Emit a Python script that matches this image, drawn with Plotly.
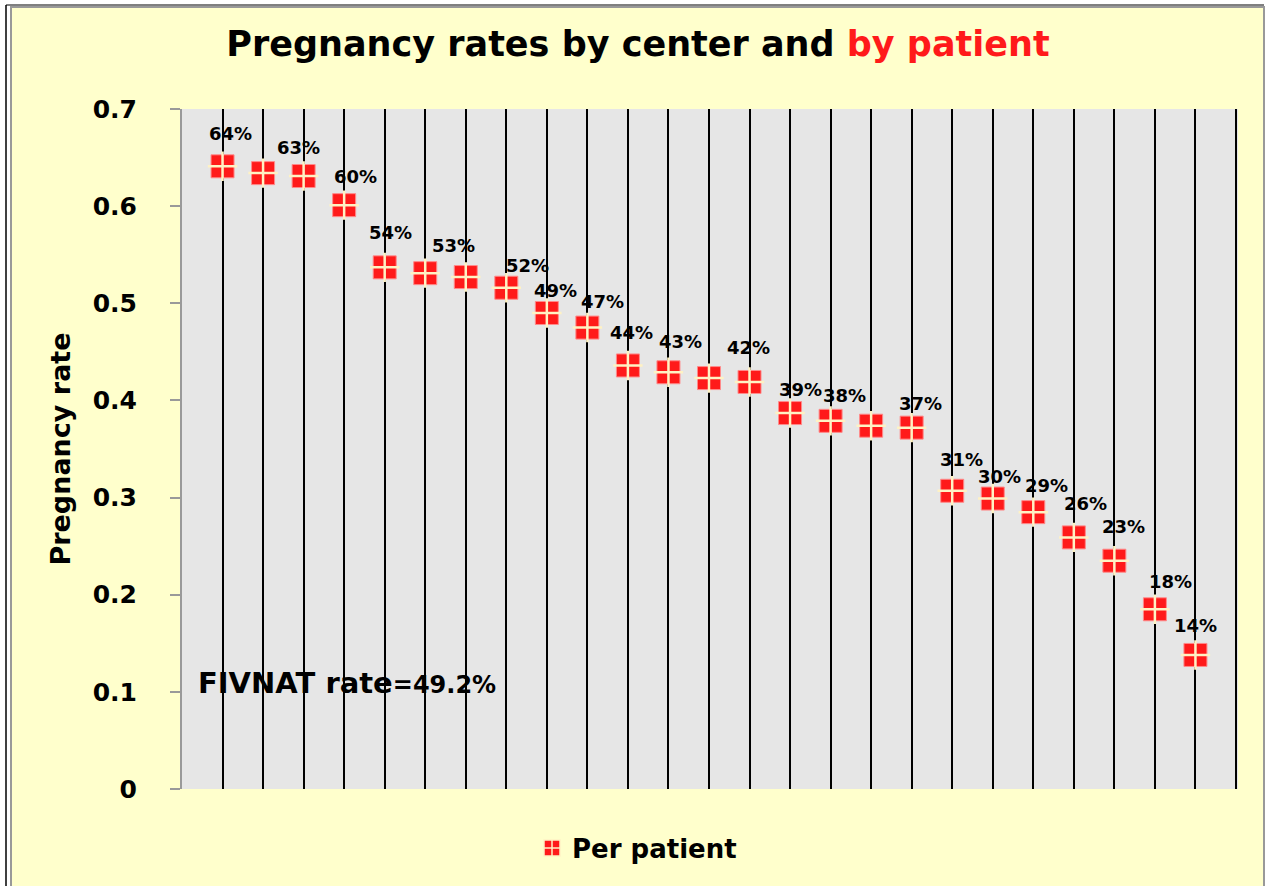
import plotly.graph_objects as go

# data
centers = list(range(1, 26))
rates = [0.641, 0.634, 0.631, 0.601, 0.537, 0.531, 0.527, 0.516, 0.490, 0.475,
         0.436, 0.429, 0.423, 0.419, 0.387, 0.379, 0.374, 0.372, 0.307, 0.299,
         0.285, 0.259, 0.235, 0.185, 0.138]
label_centers = [1, 3, 4, 5, 6, 8, 9, 10, 11, 12, 14, 15, 16, 18, 19, 20, 21, 22, 23, 24, 25]
label_texts = ["64%", "63%", "60%", "54%", "53%", "52%", "49%", "47%", "44%", "43%", "42%",
               "39%", "38%", "37%", "31%", "30%", "29%", "26%", "23%", "18%", "14%"]
y_ticks = [0, 0.1, 0.2, 0.3, 0.4, 0.5, 0.6, 0.7]
y_tick_text = ["0", "0.1", "0.2", "0.3", "0.4", "0.5", "0.6", "0.7"]
fivnat_rate = "49.2%"

# label placement (pixel shifts, styling only)
label_shift = [(8, 33), (-5, 29), (11, 29), (6, 35), (28, 28), (21, 22), (9, 23), (15, 26),
               (4, 33), (12, 31), (-1, 34), (10, 24), (14, 25), (9, 24), (9, 31), (7, 22),
               (13, 27), (12, 34), (9, 34), (16, 28), (0, 29)]

FONT = "DejaVu Sans"
YELLOW = "#FFFFCC"
RED = "#FF1A1A"
W, H = 1269, 886
L, R, T, B = 182, 31, 109, 97


def px_x(p):
    return (p - L) / (W - L - R)


def px_y(p):
    return (H - B - p) / (H - T - B)


def build_figure() -> go.Figure:
    fig = go.Figure()

    # red square body
    fig.add_trace(
        go.Scatter(
            x=centers,
            y=rates,
            mode="markers",
            marker=dict(symbol="square", size=23, color=RED,
                        line=dict(color="#FF8A8A", width=1)),
            showlegend=False,
            hoverinfo="skip",
        )
    )
    # light cross on top
    fig.add_trace(
        go.Scatter(
            x=centers,
            y=rates,
            mode="markers",
            name="Per patient",
            marker=dict(symbol="cross-thin", size=21, color="#FFF2C4",
                        line=dict(color="#FFF2C4", width=2.5)),
            showlegend=False,
            hovertemplate="%{y:.1%}<extra></extra>",
        )
    )
    # legend entry only
    fig.add_trace(
        go.Scatter(
            x=[None],
            y=[None],
            mode="markers",
            name="Per patient",
            marker=dict(symbol="square-cross", size=18, color=RED,
                        line=dict(color="#FFF2C4", width=1.5)),
            showlegend=True,
        )
    )

    for c, txt, (dx, dy) in zip(label_centers, label_texts, label_shift):
        fig.add_annotation(
            x=c,
            y=rates[c - 1],
            text=f"<b>{txt}</b>",
            showarrow=False,
            xshift=dx,
            yshift=dy,
            font=dict(family=FONT, size=18, color="black"),
        )

    fig.add_annotation(
        xref="paper",
        yref="y",
        x=px_x(196),
        y=0.109,
        xanchor="left",
        yanchor="middle",
        text=f"<b>FIVNAT rate</b><b><span style='font-size:24px'>={fivnat_rate}</span></b>",
        showarrow=False,
        font=dict(family=FONT, size=29, color="black"),
    )

    # frame around the chart
    frame = [
        dict(type="rect", x0=px_x(0), x1=px_x(11), y0=px_y(0), y1=px_y(H + 5), fillcolor="white", line_width=0),
        dict(type="rect", x0=px_x(0), x1=px_x(W), y0=px_y(0), y1=px_y(6), fillcolor="white", line_width=0),
        dict(type="rect", x0=px_x(1265), x1=px_x(W), y0=px_y(0), y1=px_y(H + 5), fillcolor="white", line_width=0),
        dict(type="line", x0=px_x(6), x1=px_x(6), y0=px_y(5), y1=px_y(H + 5), line=dict(color="black", width=1.5)),
        dict(type="line", x0=px_x(6), x1=px_x(1264), y0=px_y(5), y1=px_y(5), line=dict(color="black", width=1)),
        dict(type="line", x0=px_x(11), x1=px_x(11), y0=px_y(6), y1=px_y(H + 5), line=dict(color="#999999", width=2)),
        dict(type="line", x0=px_x(11), x1=px_x(1264), y0=px_y(7), y1=px_y(7), line=dict(color="#999999", width=2)),
        dict(type="line", x0=px_x(1264), x1=px_x(1264), y0=px_y(6), y1=px_y(H + 5), line=dict(color="#999999", width=2)),
    ]
    for s in frame:
        fig.add_shape(xref="paper", yref="paper", layer="above", **s)

    fig.update_xaxes(
        range=[0, 26.05],
        tickvals=list(range(1, 27)),
        showticklabels=False,
        ticks="",
        showgrid=True,
        gridcolor="black",
        gridwidth=2,
        zeroline=False,
        showline=False,
    )
    fig.update_yaxes(
        range=[0, 0.7],
        tickvals=y_ticks,
        ticktext=y_tick_text,
        ticks="outside",
        ticklen=10,
        tickcolor="#999999",
        tickwidth=2,
        ticklabelstandoff=28,
        tickfont=dict(family=FONT, size=25, color="black", weight="bold"),
        showgrid=False,
        zeroline=False,
        showline=True,
        linecolor="#999999",
        linewidth=2,
        title=dict(
            text="<b>Pregnancy rate</b>",
            font=dict(family=FONT, size=27, color="black"),
            standoff=14,
        ),
    )

    fig.update_layout(
        width=W,
        height=H,
        paper_bgcolor=YELLOW,
        plot_bgcolor="#E6E6E6",
        margin=dict(l=L, r=R, t=T, b=B, autoexpand=False),
        title=dict(
            text=f"<b>Pregnancy rates by center and <span style='color:{RED}'>by patient</span></b>",
            font=dict(family=FONT, size=35, color="black"),
            x=638 / W,
            xref="container",
            xanchor="center",
            y=1 - 44 / H,
            yref="container",
            yanchor="middle",
        ),
        legend=dict(
            orientation="h",
            x=px_x(637),
            xanchor="center",
            y=px_y(848),
            yanchor="middle",
            bgcolor="rgba(0,0,0,0)",
            font=dict(family=FONT, size=26, color="black", weight="bold"),
            itemwidth=30,
        ),
    )
    return fig


fig = build_figure()
fig.write_html(
    "out.html",
    config={"displayModeBar": False},
    post_script="document.body.style.margin='0';",
)
